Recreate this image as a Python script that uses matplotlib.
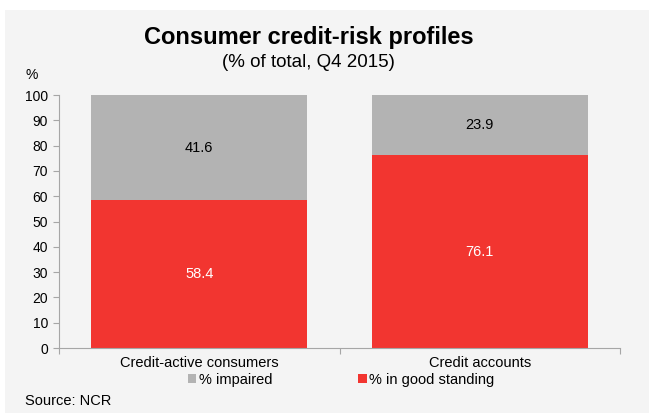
import matplotlib
matplotlib.use("Agg")
import matplotlib.pyplot as plt
from matplotlib.patches import Rectangle

plt.rcParams['font.family'] = ['Liberation Sans', 'DejaVu Sans']

categories = ["Credit-active consumers", "Credit accounts"]
good_standing = [58.4, 76.1]
impaired = [41.6, 23.9]
yticks = [0, 10, 20, 30, 40, 50, 60, 70, 80, 90, 100]

RED = "#f23530"
GREY = "#b3b3b3"
BG = "#f4f4f4"
AXIS = "#a6a6a6"

W, H = 649, 413
fig = plt.figure(figsize=(W / 100, H / 100), dpi=100)
fig.patch.set_facecolor("white")
fig.patches.append(Rectangle((5 / W, 0), 1 - 5 / W, 1 - 10 / H,
                             transform=fig.transFigure, facecolor=BG,
                             edgecolor="none", zorder=-10))

ax = fig.add_axes([59 / W, 1 - 348 / H, (620 - 59) / W, (348 - 95) / H])
ax.set_facecolor(BG)

x = range(len(categories))
width = 0.77
ax.bar(x, good_standing, width, color=RED, label="% in good standing")
ax.bar(x, impaired, width, bottom=good_standing, color=GREY, label="% impaired")

for i, (g, imp) in enumerate(zip(good_standing, impaired)):
    ax.text(i, g / 2, f"{g:.1f}", ha="center", va="center", color="white", fontsize=10.5)
    ax.text(i, g + imp / 2, f"{imp:.1f}", ha="center", va="center", color="black", fontsize=10.5)

ax.set_xlim(-0.5, 1.5)
ax.set_ylim(0, 100)
ax.set_yticks(yticks)
ax.set_yticklabels([str(t) for t in yticks], fontsize=10)
ax.set_xticks([-0.5, 0.5, 1.5], minor=False)
ax.set_xticklabels([])
ax.set_xticks([0, 1], minor=True)
ax.set_xticklabels(categories, minor=True, fontsize=10.5)
ax.tick_params(axis="x", which="minor", length=0, pad=6)
ax.tick_params(axis="x", which="major", direction="out", length=4, color=AXIS)
ax.tick_params(axis="y", direction="out", length=4, color=AXIS, pad=4)

for s in ["top", "right"]:
    ax.spines[s].set_visible(False)
for s in ["left", "bottom"]:
    ax.spines[s].set_color(AXIS)

fig.text(308.5 / W, 1 - 44 / H, "Consumer credit-risk profiles", ha="center",
         va="baseline", fontsize=17, fontweight="bold")
fig.text(308.5 / W, 1 - 67 / H, "(% of total, Q4 2015)", ha="center",
         va="baseline", fontsize=13.5)
fig.text(32 / W, 1 - 75 / H, "%", ha="center", va="center", fontsize=10)

handles, labels = ax.get_legend_handles_labels()
leg = fig.legend(handles[::-1], labels[::-1], loc="center left", ncol=2,
                 bbox_to_anchor=(188 / W, 1 - 380 / H), frameon=False,
                 borderpad=0, borderaxespad=0,
                 fontsize=10.5, handlelength=0.55, handleheight=0.55,
                 handletextpad=0.2, columnspacing=5.9)

fig.text(25 / W, 1 - 401 / H, "Source: NCR", ha="left", va="center", fontsize=10.5)

fig.savefig("out.png", dpi=100, facecolor=fig.get_facecolor())
